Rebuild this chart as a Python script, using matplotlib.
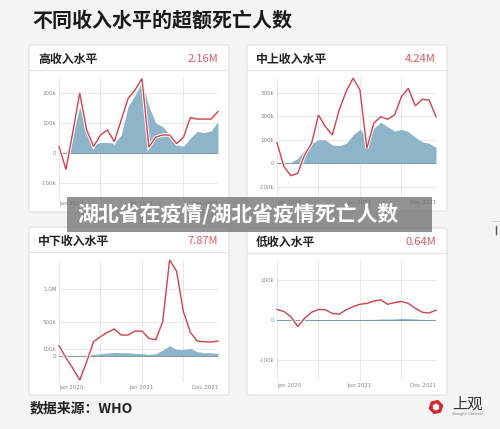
import numpy as np
import matplotlib
matplotlib.use('Agg')
import matplotlib.pyplot as plt
from matplotlib.patches import FancyBboxPatch, Rectangle, RegularPolygon
import matplotlib.patheffects as pe

plt.rcParams['font.family'] = ['Noto Sans CJK SC', 'DejaVu Sans']

# 数据（单位：千人），2020年1月 - 2021年12月，按月
months = list(range(24))
x_labels = ['Jan 2020', 'Jan 2021', 'Dec 2021']

titles = ['高收入水平', '中上收入水平', '中下收入水平', '低收入水平']
totals = ['2.16M', '4.24M', '7.87M', '0.64M']

# 红线：超额死亡估计
high_excess = [22, -55, 70, 200, 77, 22, 60, 77, 38, 110, 182, 210,
               248, 20, 53, 60, 60, 31, 52, 118, 113, 113, 113, 138]
upper_mid_excess = [88, -14, -53, -43, 36, 85, 206, 156, 121, 228, 306, 363,
                    313, 64, 171, 199, 188, 206, 284, 320, 245, 273, 270, 199]
lower_mid_excess = [150, -30, -190, -365, -90, 210, 285, 350, 400, 310, 310, 370,
                    370, 260, 240, 510, 1435, 1270, 660, 350, 220, 210, 205, 220]
low_excess = [27, 22, 9, -16, 5, 20, 27, 26, 17, 15, 26, 34,
              40, 42, 48, 51, 40, 44, 47, 42, 30, 20, 18, 25]

# 蓝色面积：报告死亡
high_reported = [0, 0, 60, 155, 72, 28, 35, 35, 33, 60, 155, 193,
                 237, 155, 100, 88, 60, 28, 22, 50, 72, 68, 74, 105]
upper_mid_reported = [0, 0, 3, 21, 57, 85, 100, 100, 78, 75, 85, 121,
                      145, 111, 149, 175, 156, 138, 145, 135, 111, 92, 85, 67]
lower_mid_reported = [0, 0, 0, 2, 5, 20, 30, 40, 50, 45, 45, 35,
                      30, 20, 30, 85, 150, 95, 90, 110, 60, 45, 45, 35]
low_reported = [0, 0, 0, 0, 0.2, 0.5, 1, 1, 1, 1, 1, 1.5,
                2, 2, 2, 3, 3, 3, 5, 4, 3, 2, 1.5, 1]

excess = [high_excess, upper_mid_excess, lower_mid_excess, low_excess]
reported = [high_reported, upper_mid_reported, lower_mid_reported, low_reported]

yticks = [[-100, 0, 100, 200], [-100, 0, 100, 200, 300], [0, 100, 500, 1000], [-100, 0, 100]]
ytick_labels = [['-100k', '0', '100k', '200k'], ['-100k', '0', '100k', '200k', '300k'],
                ['0', '100k', '500k', '1.0M'], ['-100k', '0', '100k']]
ylims = [(-150, 250), (-144, 364), (-394, 1435), (-150, 151)]

W, H = 500, 429
red = '#d2414a'
blue = '#8db4c8'
grid_c = '#e4e4e4'

fig = plt.figure(figsize=(W / 100, H / 100), dpi=100)
fig.patch.set_facecolor('#f4f4f4')

# 背景层（像素坐标）
bg = fig.add_axes([0, 0, 1, 1], zorder=0)
bg.set_xlim(0, W)
bg.set_ylim(H, 0)
bg.axis('off')

bg.text(32, 20, '不同收入水平的超额死亡人数', fontsize=14.4, fontweight='bold',
        va='center', ha='left', color='#1a1a1a')

panels = [(29, 45, 229, 212), (247, 45, 447, 211), (29, 227, 229, 395), (247, 228, 447, 395)]
for i, (x0, y0, x1, y1) in enumerate(panels):
    bg.add_patch(FancyBboxPatch((x0, y0), x1 - x0, y1 - y0,
                                boxstyle='round,pad=0,rounding_size=2',
                                facecolor='white', edgecolor='#e0e0e0', lw=0.8))
    bg.plot([x0, x1], [y0 + 25, y0 + 25], color='#e6e6e6', lw=0.8)
    bg.text(x0 + 9, y0 + 14, titles[i], fontsize=8.6, fontweight='bold',
            va='center', ha='left', color='#222222')
    bg.text(x1 - 11, y0 + 14, totals[i], fontsize=8, va='center', ha='right', color='#dc5a62')

bg.text(30, 408, '数据来源：WHO', fontsize=10, fontweight='bold', va='center', ha='left',
        color='#222222')

# 上观 logo
bg.add_patch(RegularPolygon((436, 407), numVertices=6, radius=7.5, orientation=0.3,
                            facecolor='#d5262d', edgecolor='none'))
bg.add_patch(RegularPolygon((436, 407), numVertices=6, radius=3.6, orientation=0.0,
                            facecolor='white', edgecolor='none'))
bg.text(467, 404, '上观', fontsize=11, va='center', ha='center', color='#333333')
bg.text(467, 414, 'Shanghai Observer', fontsize=2.5, va='center', ha='center', color='#777777')
bg.plot([492, 500], [221, 221], color='#cccccc', lw=0.6)
bg.plot([496, 496], [226, 234], color='#555555', lw=1.0)

# 图表区域（像素）
boxes = [(59, 78, 218, 198), (277, 78, 436, 197), (59, 260, 218, 382), (277, 260, 436, 380)]
for i, (x0, y0, x1, y1) in enumerate(boxes):
    ax = fig.add_axes([x0 / W, 1 - y1 / H, (x1 - x0) / W, (y1 - y0) / H], zorder=2)
    ax.patch.set_alpha(0)
    for s in ax.spines.values():
        s.set_visible(False)
    ax.set_xlim(0, 23)
    ax.set_ylim(*ylims[i])
    for v in [0, 6, 12, 18, 23]:
        ax.axvline(v, color=grid_c, lw=0.6, zorder=0)
    for t in yticks[i]:
        if t != 0:
            ax.axhline(t, color=grid_c, lw=0.6, zorder=0)
    ax.fill_between(months, 0, reported[i], color=blue, lw=0, zorder=1)
    ax.axhline(0, color='#7f98a8', lw=0.7, zorder=2)
    ax.plot(months, excess[i], color=red, lw=1.0, zorder=3, clip_on=False,
            solid_joinstyle='miter',
            path_effects=[pe.Stroke(linewidth=2.4, foreground='white'), pe.Normal()])
    ax.set_yticks(yticks[i])
    ax.set_yticklabels(ytick_labels[i], fontsize=4, color='#888888',
                       family=['DejaVu Sans'])
    ax.set_xticks([0, 12, 23])
    ax.set_xticklabels(x_labels, fontsize=4, color='#888888', family=['DejaVu Sans'])
    for lab, ha in zip(ax.get_xticklabels(), ['left', 'center', 'right']):
        lab.set_horizontalalignment(ha)
    ax.tick_params(length=0, pad=2)

# 遮挡横幅
top = fig.add_axes([0, 0, 1, 1], zorder=10)
top.set_xlim(0, W)
top.set_ylim(H, 0)
top.axis('off')
top.patch.set_alpha(0)
top.add_patch(Rectangle((67, 197), 365, 35, facecolor='#6e6e6e', alpha=0.75, edgecolor='none'))
top.text(238, 214, '湖北省在疫情/湖北省疫情死亡人数', fontsize=15, fontweight='bold',
         va='center', ha='center', color='white')

fig.savefig('out.png', dpi=100, facecolor=fig.get_facecolor())
